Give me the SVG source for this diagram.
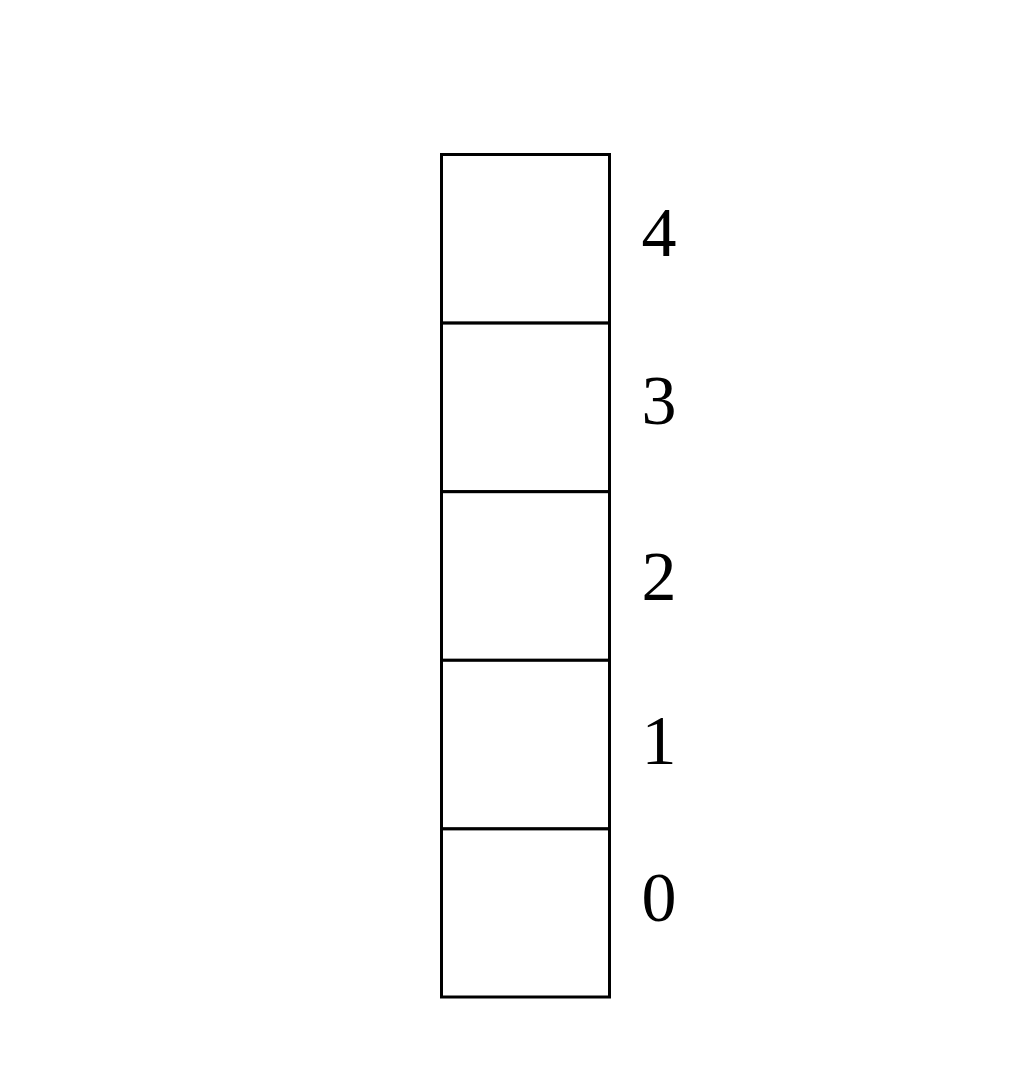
<svg xmlns="http://www.w3.org/2000/svg" width="1018" height="1080" viewBox="0 0 1018 1080">
<style>
.cell{fill:#fff;stroke:#000;stroke-width:3}
.lbl{font-family:"Liberation Serif","Times New Roman",serif;font-size:70px;fill:#000;text-anchor:middle}
</style>
<rect width="1018" height="1080" fill="#fff"/>
<g id="cell4"><rect class="cell" x="441.5" y="154.5" width="168" height="168.6"/><text class="lbl" x="659" y="256">4</text></g>
<g id="cell3"><rect class="cell" x="441.5" y="323.1" width="168" height="168.6"/><text class="lbl" x="659" y="424">3</text></g>
<g id="cell2"><rect class="cell" x="441.5" y="491.7" width="168" height="168.6"/><text class="lbl" x="659" y="600">2</text></g>
<g id="cell1"><rect class="cell" x="441.5" y="660.3" width="168" height="168.6"/><text class="lbl" x="659" y="764">1</text></g>
<g id="cell0"><rect class="cell" x="441.5" y="828.9" width="168" height="168.1"/><text class="lbl" x="659" y="921">0</text></g>
<g id="connectors"></g>
</svg>
